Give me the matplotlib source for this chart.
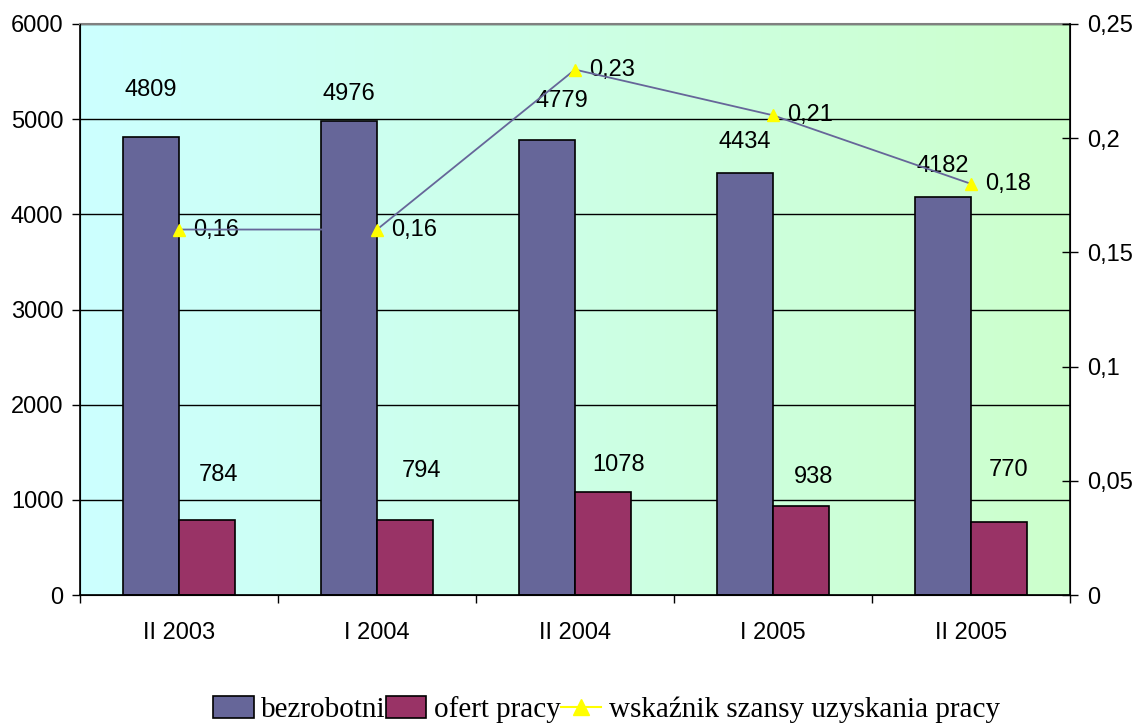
import numpy as np
import matplotlib.pyplot as plt
from matplotlib.colors import LinearSegmentedColormap
from matplotlib.lines import Line2D
from matplotlib.patches import Patch

# data
categories = ['II 2003', 'I 2004', 'II 2004', 'I 2005', 'II 2005']
bezrobotni = [4809, 4976, 4779, 4434, 4182]
oferty = [784, 794, 1078, 938, 770]
wskaznik = [0.16, 0.16, 0.23, 0.21, 0.18]
left_ticks = [0, 1000, 2000, 3000, 4000, 5000, 6000]
right_ticks = [0, 0.05, 0.1, 0.15, 0.2, 0.25]
right_labels = ['0', '0,05', '0,1', '0,15', '0,2', '0,25']

# label placement (points) as in the original layout
purple_dy = [34, 20, 28, 22, 22]
purple_dx = [0, 0, 11, 0, 0]
red_dy = [33, 35, 20, 21, 37]
red_dx = [8, 12, 11, 9, 7]

sans = 'Liberation Sans'
fs = 17
purple = '#666699'
red = '#993366'

fig = plt.figure(figsize=(11.44, 7.24), dpi=100)
ax = fig.add_axes([0.0699, 0.178, 0.8654, 0.789])

# gradient background cyan -> green
cmap = LinearSegmentedColormap.from_list('bg', ['#CCFFFF', '#CCFFCC'])
grad = np.linspace(0, 1, 256).reshape(1, -1)
ax.imshow(grad, extent=[0, 1, 0, 1], transform=ax.transAxes, aspect='auto',
          cmap=cmap, zorder=0)

x = np.arange(len(categories))
w = 0.285
ax.bar(x - w, bezrobotni, w, align='edge', color=purple, edgecolor='black',
       linewidth=1.2, zorder=2)
ax.bar(x, oferty, w, align='edge', color=red, edgecolor='black',
       linewidth=1.2, zorder=2)

for i in range(len(x)):
    ax.annotate(str(bezrobotni[i]), (x[i] - w / 2, bezrobotni[i]),
                xytext=(purple_dx[i], purple_dy[i]), textcoords='offset points',
                ha='center', va='center', fontsize=fs, family=sans, zorder=5)
    ax.annotate(str(oferty[i]), (x[i] + w / 2, oferty[i]),
                xytext=(red_dx[i], red_dy[i]), textcoords='offset points',
                ha='center', va='center', fontsize=fs, family=sans, zorder=5)

ax.set_xlim(-0.5, len(x) - 0.5)
ax.set_ylim(0, 6000)
ax.set_yticks(left_ticks)
ax.set_yticklabels([str(t) for t in left_ticks], family=sans, fontsize=fs)
ax.set_xticks(np.arange(-0.5, len(x), 1.0))
ax.set_xticklabels([])
ax.set_xticks(x, minor=True)
ax.set_xticklabels(categories, minor=True, family=sans, fontsize=fs)
ax.tick_params(axis='x', which='major', direction='out', length=6, width=1)
ax.tick_params(axis='x', which='minor', length=0, pad=19)
ax.tick_params(axis='y', direction='out', length=6, width=1, pad=6)
ax.yaxis.grid(True, color='black', linewidth=1)
ax.set_axisbelow(True)
ax.spines['top'].set_color('#808080')
ax.spines['top'].set_linewidth(1.5)
for s in ['left', 'bottom']:
    ax.spines[s].set_linewidth(1.2)

ax2 = ax.twinx()
ax2.plot(x, wskaznik, color=purple, linewidth=1.3, marker='^',
         markersize=9, markerfacecolor='yellow', markeredgecolor='yellow',
         zorder=4)
for i in range(len(x)):
    ax2.annotate(f'{wskaznik[i]:.2f}'.replace('.', ','), (x[i], wskaznik[i]),
                 xytext=(10, 0), textcoords='offset points', ha='left',
                 va='center', fontsize=fs, family=sans)
ax2.set_ylim(0, 0.25)
ax2.set_yticks(right_ticks)
ax2.set_yticklabels(right_labels, family=sans, fontsize=fs)
ax2.tick_params(axis='y', direction='inout', length=12, width=1, pad=6)
ax2.spines['right'].set_linewidth(1.2)
ax2.spines['top'].set_visible(False)

handles = [
    Patch(facecolor=purple, edgecolor='black', linewidth=1.2),
    Patch(facecolor=red, edgecolor='black', linewidth=1.2),
    Line2D([0], [0], color='yellow', linewidth=1.5, marker='^',
           markersize=11, markerfacecolor='yellow', markeredgecolor='yellow'),
]
fig.legend(handles, ['bezrobotni', 'ofert pracy',
                     'wskaźnik szansy uzyskania pracy'],
           loc='center', bbox_to_anchor=(0.53, 0.02), ncol=3, frameon=False,
           prop={'family': 'Liberation Serif', 'size': 21},
           handlelength=1.4, handleheight=0.8, handletextpad=0.25,
           columnspacing=0.0, borderaxespad=0)

fig.savefig('out.png', dpi=100)
